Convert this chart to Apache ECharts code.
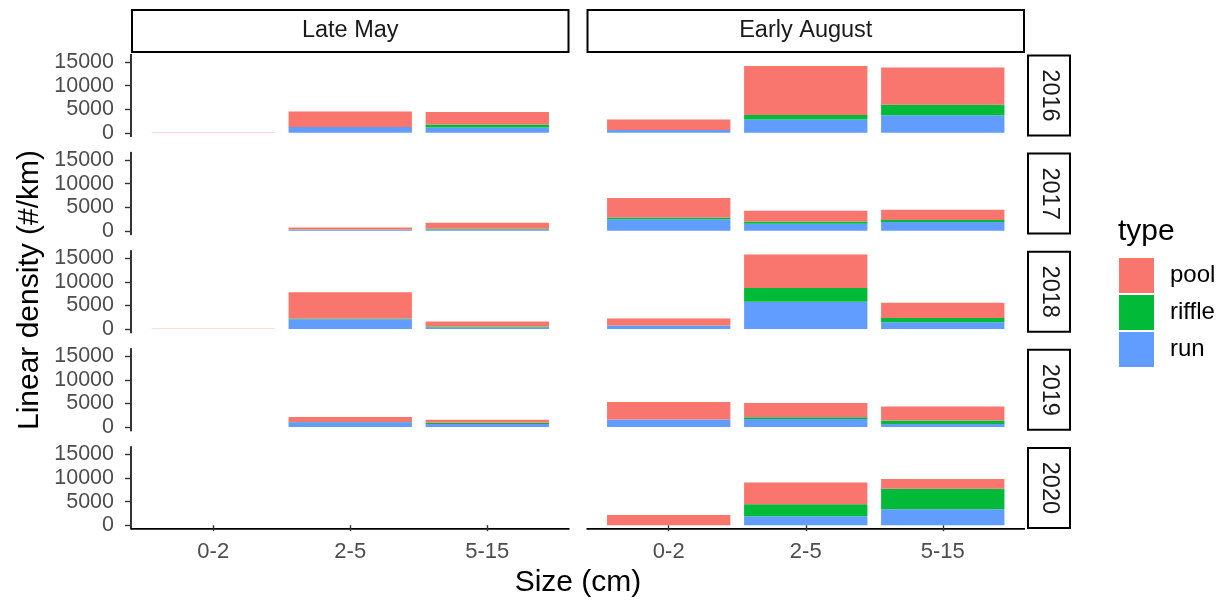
<!DOCTYPE html>
<html>
<head>
<meta charset="utf-8">
<script src="https://cdn.jsdelivr.net/npm/echarts@6/dist/echarts.min.js"></script>
<style>
  html, body { margin: 0; padding: 0; background: #fff; }
  #chart { width: 1222px; height: 602px; }
</style>
</head>
<body>
<div id="chart"></div>
<script>
// --------------------------------------------------------------
// Data
// --------------------------------------------------------------

const sizes = ["0-2", "2-5", "5-15"];
const years = ["2016", "2017", "2018", "2019", "2020"];
const periods = ["Late May", "Early August"];
const yTicks = [0, 5000, 10000, 15000];

// one row per year, values for sizes 0-2, 2-5, 5-15
const runMay = [[0, 1250, 1100], [0, 250, 300], [0, 2050, 300], [0, 1000, 650], [0, 0, 0]];
const riffleMay = [[0, 0, 650], [0, 50, 150], [0, 150, 200], [0, 100, 250], [0, 0, 0]];
const poolMay = [[40, 3280, 2650], [40, 400, 1250], [40, 5600, 1100], [40, 1050, 650], [0, 0, 0]];

const runAug = [[600, 2800, 3700], [2450, 1500, 1900], [700, 5750, 1400], [1600, 1700, 650], [0, 1900, 3350]];
const riffleAug = [[0, 950, 2250], [400, 500, 400], [50, 2950, 950], [0, 400, 750], [0, 2550, 4350]];
const poolAug = [[2200, 10400, 7900], [4100, 2250, 2200], [1450, 7100, 3200], [3700, 3000, 2950], [2150, 4600, 2100]];

const colors = { pool: "#F8766D", riffle: "#00BA38", run: "#619CFF" };

// --------------------------------------------------------------
// Layout
// --------------------------------------------------------------

const FONT = "Liberation Sans, Arial, sans-serif";
const colLeft = [131, 586.5];
const panelW = 438.5;
const rowTop0 = 54.5;
const rowStep = 98.1;
const panelH = 82;
// ggplot pads a discrete axis by 0.6 of a category on both sides
const pad = panelW * 0.1 / 3.2;

// shared y range, ggplot-style 5% expansion
let maxTotal = 0;
[[runMay, riffleMay, poolMay], [runAug, riffleAug, poolAug]].forEach((set) => {
  for (let r = 0; r < years.length; r++) {
    for (let i = 0; i < sizes.length; i++) {
      maxTotal = Math.max(maxTotal, set[0][r][i] + set[1][r][i] + set[2][r][i]);
    }
  }
});
const yMin = -maxTotal * 0.05;
const yMax = maxTotal * 1.05;

// --------------------------------------------------------------
// Build options
// --------------------------------------------------------------

const grids = [], xAxes = [], yAxes = [], series = [], graphics = [];

function addPanel(r, c, run, riffle, pool) {
  const idx = grids.length;
  const isBottom = r === years.length - 1;
  const isLeft = c === 0;
  grids.push({ left: colLeft[c] + pad, top: rowTop0 + r * rowStep, width: panelW - 2 * pad, height: panelH });
  xAxes.push({
    type: "category", gridIndex: idx, data: sizes,
    show: isBottom,
    axisLine: { show: false },
    axisTick: { show: true, length: 6, alignWithLabel: true, lineStyle: { color: "#333", width: 1.4 } },
    axisLabel: { margin: 12, fontSize: 22, color: "#4D4D4D", fontFamily: FONT },
    splitLine: { show: false },
  });
  yAxes.push({
    type: "value", gridIndex: idx, min: yMin, max: yMax,
    show: isLeft, offset: pad,
    axisLine: { show: true, lineStyle: { color: "#000", width: 1.6 } },
    axisTick: { show: true, length: 6, customValues: yTicks, lineStyle: { color: "#333", width: 1.4 } },
    axisLabel: {
      customValues: yTicks, margin: 17, fontSize: 21.5, color: "#4D4D4D", fontFamily: FONT,
      formatter: (v) => String(v),
    },
    splitLine: { show: false },
  });
  const parts = [["run", run], ["riffle", riffle], ["pool", pool]];
  parts.forEach(([name, vals]) => {
    series.push({
      name: name, type: "bar", xAxisIndex: idx, yAxisIndex: idx,
      stack: "s" + idx, barWidth: "90%",
      itemStyle: { color: colors[name] },
      data: vals[r],
    });
  });
  if (isBottom) {
    // x axis line spans the whole panel, padding included
    graphics.push({
      type: "line",
      shape: { x1: colLeft[c], y1: rowTop0 + r * rowStep + panelH, x2: colLeft[c] + panelW, y2: rowTop0 + r * rowStep + panelH },
      style: { stroke: "#000", lineWidth: 1.6 },
    });
  }
}

for (let r = 0; r < years.length; r++) {
  addPanel(r, 0, runMay, riffleMay, poolMay);
  addPanel(r, 1, runAug, riffleAug, poolAug);
}

// facet strips on top
periods.forEach((p, c) => {
  graphics.push({
    type: "rect",
    shape: { x: colLeft[c] + 1, y: 10, width: panelW - 2, height: 42 },
    style: { fill: "#fff", stroke: "#000", lineWidth: 2 },
  });
  graphics.push({
    type: "text", x: colLeft[c] + panelW / 2, y: 31,
    style: { text: p, fill: "#1A1A1A", fontSize: 23.5, fontFamily: FONT, align: "center", verticalAlign: "middle" },
  });
});

// facet strips on the right
years.forEach((yr, r) => {
  const top = rowTop0 + r * rowStep;
  graphics.push({
    type: "rect",
    shape: { x: 1028, y: top + 1, width: 42, height: panelH - 2 },
    style: { fill: "#fff", stroke: "#000", lineWidth: 2 },
  });
  graphics.push({
    type: "text", x: 1049, y: top + panelH / 2, rotation: -Math.PI / 2,
    style: { text: yr, fill: "#1A1A1A", fontSize: 23.5, fontFamily: FONT, align: "center", verticalAlign: "middle" },
  });
});

// axis titles + legend title
graphics.push({
  type: "text", x: 30, y: 290, rotation: Math.PI / 2,
  style: { text: "Linear density (#/km)", fill: "#000", fontSize: 30, fontFamily: FONT, align: "center", verticalAlign: "middle" },
});
graphics.push({
  type: "text", x: 578, y: 583,
  style: { text: "Size (cm)", fill: "#000", fontSize: 30, fontFamily: FONT, align: "center", verticalAlign: "middle" },
});
graphics.push({
  type: "text", x: 1118, y: 232,
  style: { text: "type", fill: "#000", fontSize: 30, fontFamily: FONT, align: "left", verticalAlign: "middle" },
});

const chart = echarts.init(document.getElementById("chart"), null, { renderer: "canvas" });
chart.setOption({
  backgroundColor: "#fff",
  animation: false,
  grid: grids,
  xAxis: xAxes,
  yAxis: yAxes,
  series: series,
  legend: {
    data: ["pool", "riffle", "run"],
    orient: "vertical", left: 1119, top: 258, padding: 0,
    itemWidth: 35, itemHeight: 35, itemGap: 2,
    icon: "rect",
    textStyle: { fontSize: 24, color: "#000", fontFamily: FONT, padding: [0, 0, 0, 11] },
  },
  graphic: graphics,
});
</script>
</body>
</html>
